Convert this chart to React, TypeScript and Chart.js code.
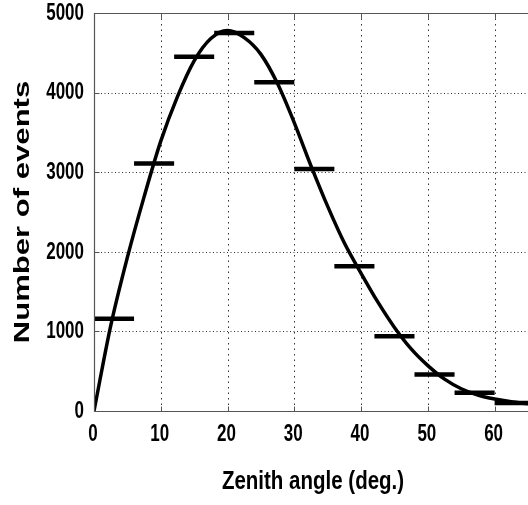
import React, { useEffect, useRef } from "react";
import { Chart, registerables } from "chart.js";

Chart.register(...registerables);

// ---- data ----
const xTicks = [0, 10, 20, 30, 40, 50, 60];
const yTicks = [0, 1000, 2000, 3000, 4000, 5000];
const xTickLabels = ["0", "10", "20", "30", "40", "50", "60"];
const yTickLabels = ["0", "1000", "2000", "3000", "4000", "5000"];

const binEdges = [0, 6, 12, 18, 24, 30, 36, 42, 48, 54, 60, 66];
const binCounts = [1160, 3110, 4450, 4750, 4130, 3040, 1820, 940, 460, 230, 100];

const curveX = [0, 2.5, 5, 7.5, 10, 12.5, 15, 17.5, 20, 22.5, 25, 27.5, 30, 32.5, 35, 37.5, 40, 42.5, 45, 47.5, 50, 52.5, 55, 57.5, 60, 62.5, 65];
const curveY = [0, 1070, 1930, 2690, 3390, 3950, 4400, 4680, 4780, 4690, 4480, 4110, 3620, 3080, 2570, 2110, 1730, 1370, 1050, 780, 570, 400, 280, 200, 150, 115, 90];

const xTitle = "Zenith angle (deg.)";
const yTitle = "Number of events";

const FONT = '"Liberation Sans", Arial, Helvetica, sans-serif';

function stretchedText(
  ctx: CanvasRenderingContext2D,
  text: string,
  x: number,
  y: number,
  size: number,
  sx: number,
  sy: number,
  align: CanvasTextAlign,
  rotation = 0
) {
  ctx.save();
  ctx.translate(x, y);
  if (rotation) ctx.rotate(rotation);
  ctx.scale(sx, sy);
  ctx.font = `bold ${size}px ${FONT}`;
  ctx.fillStyle = "#000";
  ctx.textAlign = align;
  ctx.textBaseline = "middle";
  ctx.fillText(text, 0, 0);
  ctx.restore();
}

const decor = {
  id: "matlabDecor",
  beforeDatasetsDraw(chart: any) {
    const { ctx, chartArea: a, scales } = chart;
    const xs = scales.x;
    const ys = scales.y;
    ctx.save();
    ctx.strokeStyle = "#333";
    ctx.lineWidth = 1;
    // vertical dotted grid
    ctx.setLineDash([1.5, 4]);
    xTicks.forEach((v) => {
      const px = Math.round(xs.getPixelForValue(v)) + 0.5;
      if (v === 0) return;
      ctx.beginPath();
      ctx.moveTo(px, a.top);
      ctx.lineTo(px, a.bottom);
      ctx.stroke();
    });
    // horizontal dotted grid
    ctx.setLineDash([1, 2.5]);
    yTicks.forEach((v) => {
      if (v === 0 || v === 5000) return;
      const py = Math.round(ys.getPixelForValue(v)) + 0.5;
      ctx.beginPath();
      ctx.moveTo(a.left, py);
      ctx.lineTo(a.right, py);
      ctx.stroke();
    });
    ctx.restore();
  },
  afterDatasetsDraw(chart: any) {
    const { ctx, chartArea: a, scales } = chart;
    const xs = scales.x;
    const ys = scales.y;
    ctx.save();
    ctx.setLineDash([]);
    ctx.strokeStyle = "#555";
    ctx.lineWidth = 1.2;
    const L = Math.round(a.left) + 0.5;
    const T = Math.round(a.top) + 0.5;
    const B = Math.round(a.bottom) + 0.5;
    ctx.beginPath();
    ctx.moveTo(a.right + 2, T);
    ctx.lineTo(L, T);
    ctx.lineTo(L, B);
    ctx.lineTo(a.right + 2, B);
    ctx.stroke();
    // inward tick marks
    ctx.lineWidth = 1;
    xTicks.forEach((v) => {
      const px = Math.round(xs.getPixelForValue(v)) + 0.5;
      ctx.beginPath();
      ctx.moveTo(px, B);
      ctx.lineTo(px, B - 5);
      ctx.moveTo(px, T);
      ctx.lineTo(px, T + 5);
      ctx.stroke();
    });
    yTicks.forEach((v) => {
      const py = Math.round(ys.getPixelForValue(v)) + 0.5;
      ctx.beginPath();
      ctx.moveTo(L, py);
      ctx.lineTo(L + 5, py);
      ctx.stroke();
    });
    ctx.restore();

    // tick labels
    xTicks.forEach((v, i) => {
      stretchedText(ctx, xTickLabels[i], xs.getPixelForValue(v) - 1, 434, 17, 1, 1.45, "center");
    });
    yTicks.forEach((v, i) => {
      stretchedText(ctx, yTickLabels[i], 84, ys.getPixelForValue(v), 17, 1, 1.45, "right");
    });
    // titles
    stretchedText(ctx, xTitle, (a.left + a.right) / 2 + 2, 482, 20.5, 1, 1.3, "center");
    stretchedText(ctx, yTitle, 23, (a.top + a.bottom) / 2, 21, 1.48, 1.05, "center", -Math.PI / 2);
  },
};

export default function App() {
  const ref = useRef<HTMLCanvasElement | null>(null);

  useEffect(() => {
    if (!ref.current) return;
    const histData: any[] = [];
    binCounts.forEach((c, i) => {
      histData.push({ x: binEdges[i], y: c });
      histData.push({ x: binEdges[i + 1], y: c });
      histData.push({ x: binEdges[i + 1], y: null });
    });
    const curveData = curveX.map((x, i) => ({ x, y: curveY[i] }));

    const chart = new Chart(ref.current, {
      type: "line",
      data: {
        datasets: [
          {
            label: "fit",
            data: curveData,
            borderColor: "#000",
            borderWidth: 3.5,
            pointRadius: 0,
            cubicInterpolationMode: "monotone",
            fill: false,
          },
          {
            label: "histogram",
            data: histData,
            borderColor: "#000",
            borderWidth: 4.5,
            pointRadius: 0,
            spanGaps: false,
            borderCapStyle: "butt",
            fill: false,
          },
        ],
      },
      options: {
        responsive: false,
        animation: false,
        devicePixelRatio: 1,
        layout: { padding: { top: 13, left: 0, right: 0, bottom: 0 } },
        plugins: { legend: { display: false }, tooltip: { enabled: false } },
        scales: {
          x: {
            type: "linear",
            min: 0,
            max: 65,
            ticks: { display: false },
            grid: { display: false },
            border: { display: false },
            afterFit: (s: any) => {
              s.height = 94;
            },
          },
          y: {
            type: "linear",
            min: 0,
            max: 5000,
            ticks: { display: false },
            grid: { display: false },
            border: { display: false },
            afterFit: (s: any) => {
              s.width = 94;
            },
          },
        },
      },
      plugins: [decor],
    } as any);
    return () => chart.destroy();
  }, []);

  return (
    <div style={{ position: "absolute", left: 0, top: 0, width: 528, height: 505, background: "#fff" }}>
      <canvas ref={ref} width={528} height={505} style={{ display: "block" }} />
    </div>
  );
}
